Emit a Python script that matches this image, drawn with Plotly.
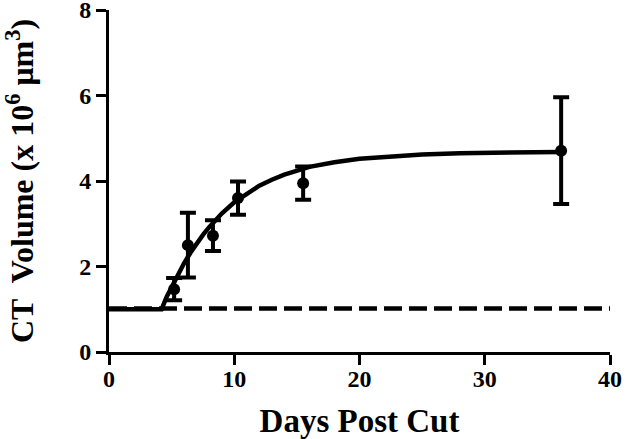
import plotly.graph_objects as go

# Measured data points (days, volume x10^6 µm^3) with SEM
days = [5.2, 6.3, 8.3, 10.3, 15.5, 36.1]
volume = [1.47, 2.50, 2.72, 3.60, 3.95, 4.71]
err = [0.26, 0.76, 0.36, 0.39, 0.39, 1.25]

# Fitted curve
fit_x = [0, 4.2, 4.6, 5, 5.5, 6, 6.5, 7, 7.5, 8, 9, 10, 11, 12, 13, 14, 16, 18, 20, 22, 25, 28, 32, 36.1]
fit_y = [1.0, 1.0, 1.29, 1.52, 1.82, 2.08, 2.32, 2.54, 2.74, 2.92, 3.24, 3.5, 3.71, 3.89, 4.03, 4.15, 4.33, 4.44, 4.52, 4.57, 4.62, 4.65, 4.67, 4.68]

# Baseline (dashed)
base_x = [0, 40]
base_y = [1.02, 1.02]

x_ticks = [0, 10, 20, 30, 40]
y_ticks = [0, 2, 4, 6, 8]

FONT = "Liberation Serif"

fig = go.Figure()
fig.add_trace(go.Scatter(x=base_x, y=base_y, mode="lines",
                         line=dict(color="black", width=4.5, dash="18px,7px"),
                         showlegend=False, hoverinfo="skip"))
fig.add_trace(go.Scatter(x=fit_x, y=fit_y, mode="lines",
                         line=dict(color="black", width=4.5),
                         showlegend=False))
fig.add_trace(go.Scatter(x=days, y=volume, mode="markers",
                         marker=dict(color="black", size=12),
                         error_y=dict(type="data", array=err, visible=True,
                                      color="black", thickness=4, width=8),
                         showlegend=False, cliponaxis=False))

fig.update_layout(
    width=640, height=439,
    margin=dict(l=109, r=30, t=10, b=87),
    paper_bgcolor="white", plot_bgcolor="white",
    font=dict(family=FONT, color="black"),
)
fig.update_xaxes(
    range=[0, 40], tickvals=x_ticks, ticktext=[str(v) for v in x_ticks],
    showline=True, linecolor="black", linewidth=3,
    ticks="outside", ticklen=10, tickwidth=3, tickcolor="black",
    showgrid=False, zeroline=False, automargin=False,
    ticklabeloverflow="allow", ticklabelstandoff=-7,
    tickfont=dict(family=FONT, size=24, weight="bold", color="black"),
    title=dict(text="Days Post Cut", standoff=20,
               font=dict(family=FONT, size=33, weight="bold", color="black")),
)
fig.update_yaxes(
    range=[0, 8], tickvals=y_ticks, ticktext=[str(v) for v in y_ticks],
    showline=True, linecolor="black", linewidth=3,
    ticks="outside", ticklen=10, tickwidth=3, tickcolor="black",
    showgrid=False, zeroline=False, automargin=False,
    ticklabeloverflow="allow",
    tickfont=dict(family=FONT, size=24, weight="bold", color="black"),
    title=dict(text="CT\u00a0 Volume (x 10<sup>6</sup> \u03bcm<sup>3</sup>)", standoff=46,
               font=dict(family=FONT, size=32, weight="bold", color="black")),
)

fig.write_html("out.html", config={"displayModeBar": False},
               post_script="document.body.style.margin='0px';")
